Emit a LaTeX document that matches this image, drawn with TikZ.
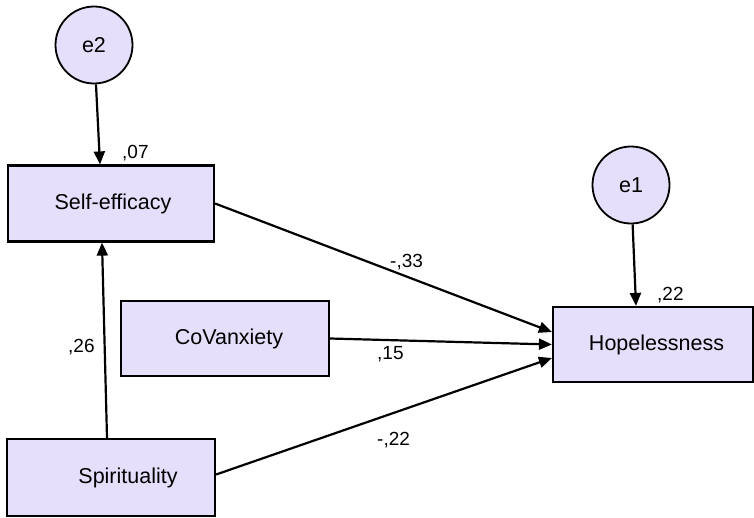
\documentclass[tikz,border=0pt]{standalone}
\usepackage{fontspec}
\setmainfont{Liberation Sans}
\usetikzlibrary{arrows.meta}
\definecolor{boxfill}{RGB}{230,223,251}
\tikzset{
  varbox/.style={draw=black, line width=2.2pt, fill=boxfill, minimum width=206pt, minimum height=76pt, inner sep=0pt, font=\fontsize{21.5}{25}\selectfont},
  errc/.style={draw=black, line width=1.8pt, fill=boxfill, circle, minimum size=77pt, inner sep=0pt, font=\fontsize{21.5}{25}\selectfont},
  path/.style={line width=2.2pt, -{Triangle[length=13pt,width=11pt]}},
  coef/.style={anchor=base west, inner sep=0pt, font=\fontsize{19}{22}\selectfont}
}
\begin{document}
\begin{tikzpicture}[x=1pt,y=-1pt]
\useasboundingbox (0,0) rectangle (754,517);
\node[varbox] (self) at (111,203.5) {\hspace*{4pt}Self-efficacy};
\node[varbox, minimum width=208pt, minimum height=75pt] (cov) at (225,338.5) {\hspace*{8pt}CoVanxiety};
\node[varbox, minimum width=208pt, minimum height=77pt] (spir) at (111,477.5) {\hspace*{34pt}Spirituality};
\node[varbox, minimum width=200pt, minimum height=75pt] (hop) at (653,344.5) {\hspace*{7pt}Hopelessness};
\node[errc] (e2) at (94,45) {e2};
\node[errc] (e1) at (631,185) {e1};

\draw[path] (e2) -- ([xshift=-11pt]self.north);
\draw[path] (e1) -- ([xshift=-17pt]hop.north);
\draw[path] ([xshift=-4pt]spir.north) -- ([xshift=-9pt]self.south);
\draw[path] (self.east) -- ([yshift=12.5pt]hop.west);
\draw[path] (cov.east) -- (hop.west);
\draw[path] ([yshift=3pt]spir.east) -- ([yshift=-13.5pt]hop.west);

\node[coef] (l07) at (122,158) {,07};
\node[coef] (l22a) at (657,300) {,22};
\node[coef] (l33) at (390,267) {-,33};
\node[coef] (l15) at (377,359) {,15};
\node[coef] (l22b) at (377,445) {-,22};
\node[coef] (l26) at (68,352) {,26};
\end{tikzpicture}
\end{document}
